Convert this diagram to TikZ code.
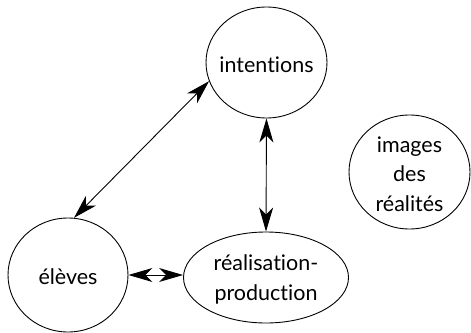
\documentclass[tikz,border=0pt]{standalone}
\usepackage{fontspec}
\setmainfont{Lato}[Ligatures={CommonOff,ContextualOff}]
\usetikzlibrary{shapes.geometric,arrows.meta}
\begin{document}
\begin{tikzpicture}[x=1pt,y=-1pt,
  bubble/.style={draw=black,line width=0.9pt,ellipse,inner sep=0pt,
    label={[font=\fontsize{21.5}{29.5}\selectfont,align=center,yshift=-2pt]center:#1}},
  link/.style={line width=0.9pt,{Stealth[length=24pt,width=14pt,inset=7pt]}-{Stealth[length=24pt,width=14pt,inset=7pt]}}]
\useasboundingbox (0,0) rectangle (471,332);
% the ellipses keep a fixed size; their words are centred labels
\node[bubble=intentions,minimum width=121pt,minimum height=111pt] (int) at (266.5,62.5) {};
\node[bubble={images\\des\\réalités},minimum width=121pt,minimum height=114pt] (img) at (409.5,172) {};
\node[bubble=élèves,minimum width=120pt,minimum height=114pt] (elv) at (68,275) {};
\node[bubble={réalisation-\\production},minimum width=165pt,minimum height=91pt] (real) at (266,277.5) {};
\draw[link] (int.198) -- (elv.84);
\draw[link] (int.south) -- (real.north);
\draw[link] (elv.east) -- (elv.east -| real.west);
\end{tikzpicture}
\end{document}
